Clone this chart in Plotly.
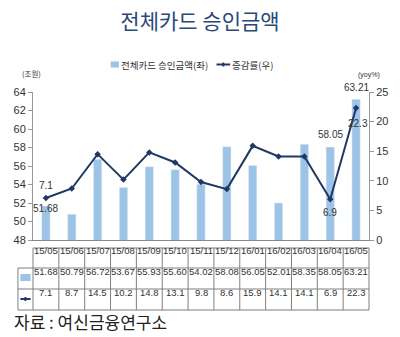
import plotly.graph_objects as go

months = ["15/05", "15/06", "15/07", "15/08", "15/09", "15/10", "15/11",
          "15/12", "16/01", "16/02", "16/03", "16/04", "16/05"]
amount = [51.68, 50.79, 56.72, 53.67, 55.93, 55.60, 54.02,
          58.08, 56.05, 52.01, 58.35, 58.05, 63.21]
growth = [7.1, 8.7, 14.5, 10.2, 14.8, 13.1, 9.8,
          8.6, 15.9, 14.1, 14.1, 6.9, 22.3]

title_text = "전체카드 승인금액"
bar_name = "전체카드 승인금액(좌)"
line_name = "증감률(우)"
source_text = "자료 : 여신금융연구소"

BAR_C = "#9DC3E6"
LINE_C = "#1F3864"
NUM_FONT = "Liberation Sans, Arial, sans-serif"
KR_FONT = "Noto Sans CJK KR, Noto Sans, sans-serif"

W, H = 400, 337
L, R, T, B = 33, 21, 92, 97
pw, ph = W - L - R, H - T - B

def px(xpix):
    return (xpix - L) / pw

def py(ypix):
    return (H - B - ypix) / ph

fig = go.Figure()
fig.add_trace(go.Bar(x=months, y=amount, name=bar_name, marker_color=BAR_C,
                     width=0.32, yaxis="y", showlegend=False))
fig.add_trace(go.Scatter(x=months, y=growth, name=line_name, mode="lines+markers",
                         line=dict(color=LINE_C, width=2),
                         marker=dict(color=LINE_C, size=5, symbol="diamond"),
                         yaxis="y2", showlegend=False))

n = len(months)
shapes = []
ann = []
line_col = "#7f7f7f"
r0, r1, r2, r3 = py(248), py(268), py(289), py(310)
xl = px(17.5)
shapes.append(dict(type="line", xref="paper", yref="paper", x0=0, x1=1, y0=r0, y1=r0,
                   line=dict(color=line_col, width=1)))
for yy in (r1, r2, r3):
    shapes.append(dict(type="line", xref="paper", yref="paper", x0=xl, x1=1, y0=yy, y1=yy,
                       line=dict(color=line_col, width=1)))
shapes.append(dict(type="line", xref="paper", yref="paper", x0=xl, x1=xl, y0=r1, y1=r3,
                   line=dict(color=line_col, width=1)))
for k in range(n + 1):
    xx = k / n
    shapes.append(dict(type="line", xref="paper", yref="paper", x0=xx, x1=xx, y0=r0, y1=r3,
                       line=dict(color=line_col, width=1)))
# legend keys in table
shapes.append(dict(type="rect", xref="paper", yref="paper", x0=px(20), x1=px(30.5),
                   y0=py(281), y1=py(274), fillcolor=BAR_C, line=dict(width=0)))
shapes.append(dict(type="line", xref="paper", yref="paper", x0=px(20), x1=px(30.5),
                   y0=py(299), y1=py(299), line=dict(color=LINE_C, width=2)))
shapes.append(dict(type="rect", xref="paper", yref="paper", x0=px(24.2), x1=px(26.2),
                   y0=py(301), y1=py(297), fillcolor=LINE_C, line=dict(width=0)))

# manual legend above plot
shapes.append(dict(type="rect", xref="paper", yref="paper", x0=px(113), x1=px(121.5),
                   y0=py(67.5), y1=py(61.5), fillcolor=BAR_C, line=dict(width=0)))
shapes.append(dict(type="line", xref="paper", yref="paper", x0=px(222), x1=px(236),
                   y0=py(64.5), y1=py(64.5), line=dict(color=LINE_C, width=2)))
shapes.append(dict(type="rect", xref="paper", yref="paper", x0=px(228), x1=px(230),
                   y0=py(66.5), y1=py(62.5), fillcolor=LINE_C, line=dict(width=0)))
legf = dict(family=KR_FONT, size=9.5, color="#333333")
ann.append(dict(x=px(122), y=py(64.5), xref="paper", yref="paper", text=bar_name,
                xanchor="left", yanchor="middle", showarrow=False, font=legf))
ann.append(dict(x=px(236), y=py(64.5), xref="paper", yref="paper", text=line_name,
                xanchor="left", yanchor="middle", showarrow=False, font=legf))

cf = dict(family=NUM_FONT, size=9.5, color="#333333")
for i, m in enumerate(months):
    ann.append(dict(x=m, y=(r0 + r1) / 2, xref="x", yref="paper", text=m,
                    showarrow=False, font=cf))
    ann.append(dict(x=m, y=(r1 + r2) / 2, xref="x", yref="paper", text=f"{amount[i]:.2f}",
                    showarrow=False, font=cf))
    ann.append(dict(x=m, y=(r2 + r3) / 2, xref="x", yref="paper", text=f"{growth[i]:.1f}",
                    showarrow=False, font=cf))

lf = dict(family=NUM_FONT, size=10, color="#333333")
ann.append(dict(x=months[0], y=growth[0], xref="x", yref="y2", text=f"{growth[0]}",
                showarrow=False, yshift=12, font=lf))
ann.append(dict(x=months[0], y=amount[0], xref="x", yref="y", text=f"{amount[0]:.2f}",
                showarrow=False, yshift=-3, font=lf))
ann.append(dict(x=months[11], y=amount[11], xref="x", yref="y", text=f"{amount[11]:.2f}",
                showarrow=False, yshift=13, font=lf))
ann.append(dict(x=months[11], y=growth[11], xref="x", yref="y2", text=f"{growth[11]}",
                showarrow=False, yshift=-13, font=lf))
ann.append(dict(x=months[12], y=amount[12], xref="x", yref="y", text=f"{amount[12]:.2f}",
                showarrow=False, yshift=12, font=lf))
ann.append(dict(x=months[12], y=growth[12], xref="x", yref="y2", text=f"{growth[12]}",
                showarrow=False, yshift=-16, xshift=2, font=lf))

ann.append(dict(x=px(20), y=py(66), xref="paper", yref="paper", text="(조원)",
                showarrow=False, font=dict(family=KR_FONT, size=7.5, color="#333333")))
ann.append(dict(x=px(392), y=py(69), xref="paper", yref="paper", text="(yoy%)",
                showarrow=False, font=dict(family=NUM_FONT, size=7, color="#333333")))
ann.append(dict(x=px(11), y=py(336), xref="paper", yref="paper", text=source_text,
                xanchor="left", yanchor="bottom", showarrow=False,
                font=dict(family=KR_FONT, size=17, color="#222222")))

fig.update_layout(
    width=W, height=H,
    margin=dict(l=L, r=R, t=T, b=B, pad=0),
    paper_bgcolor="white", plot_bgcolor="white",
    title=dict(text=title_text, x=0.5, xanchor="center", y=1 - 22 / H, yanchor="middle",
               font=dict(family=KR_FONT, size=21, color="#2B4878")),
    showlegend=False,
    xaxis=dict(type="category", range=[-0.5, n - 0.5], showticklabels=False, ticks="",
               showline=True, linecolor="#888888", linewidth=1, showgrid=False,
               zeroline=False),
    yaxis=dict(range=[48, 64], dtick=2, ticks="outside", ticklen=4, tickcolor="#999999",
               showline=True, linecolor="#999999", showgrid=False, zeroline=False,
               tickfont=dict(family=NUM_FONT, size=11, color="#333333")),
    yaxis2=dict(range=[0, 25], dtick=5, overlaying="y", side="right", ticks="outside",
                ticklen=4, tickcolor="#999999", showline=True, linecolor="#999999",
                showgrid=False, zeroline=False,
                tickfont=dict(family=NUM_FONT, size=11, color="#333333")),
    shapes=shapes, annotations=ann,
)

fig.write_html("out.html")
